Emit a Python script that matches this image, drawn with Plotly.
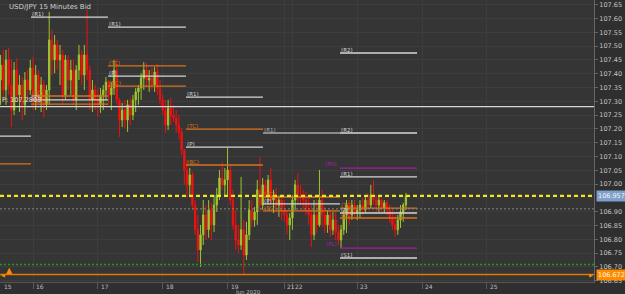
import plotly.graph_objects as go

title_text = "USD/JPY 15 Minutes Bid"

# trading-hour index (hours since Jun 15 00:00, weekend gap removed)
candle_hours = list(range(12, 163))

closes = [
    107.431, 107.341, 107.450, 107.359, 107.268, 107.413, 107.323, 107.359, 107.287, 107.377, 107.341, 107.421,
    107.323, 107.395, 107.305, 107.359, 107.287, 107.341, 107.522, 107.450, 107.504, 107.450, 107.468, 107.323,
    107.450, 107.377, 107.413, 107.305, 107.413, 107.468, 107.395, 107.468, 107.413, 107.305, 107.341, 107.305,
    107.287, 107.323, 107.341, 107.370, 107.323, 107.348, 107.413, 107.305, 107.232, 107.268, 107.232, 107.287,
    107.250, 107.305, 107.334, 107.348, 107.384, 107.413, 107.377, 107.384, 107.359, 107.406, 107.348, 107.305,
    107.268, 107.214, 107.276, 107.250, 107.240, 107.214, 107.189, 107.124, 107.051, 106.997, 107.033, 106.924,
    106.834, 106.761, 106.816, 106.888, 106.834, 106.906, 106.852, 106.924, 106.960, 107.022, 106.997, 107.015,
    107.051, 106.942, 106.852, 106.797, 106.779, 106.834, 106.743, 106.816, 106.906, 106.870, 106.899, 106.979,
    106.924, 106.997, 106.960, 107.015, 106.942, 106.960, 106.924, 106.942, 106.906, 106.888, 106.852, 106.877,
    106.942, 106.997, 106.960, 106.950, 106.942, 106.906, 106.888, 106.816, 106.888, 106.852, 106.942, 106.888,
    106.852, 106.888, 106.834, 106.870, 106.826, 106.797, 106.834, 106.888, 106.924, 106.888, 106.924, 106.899,
    106.906, 106.924, 106.906, 106.942, 106.924, 106.960, 106.942, 106.924, 106.942, 106.913, 106.932, 106.906,
    106.877, 106.852, 106.834, 106.870, 106.899, 106.924, 106.957,
]
highs = [
    107.468, 107.486, 107.486, 107.493, 107.450, 107.442, 107.457, 107.395, 107.388, 107.406, 107.413, 107.450,
    107.460, 107.431, 107.413, 107.388, 107.377, 107.359, 107.624, 107.558, 107.540, 107.522, 107.504, 107.486,
    107.468, 107.468, 107.450, 107.450, 107.431, 107.504, 107.486, 107.504, 107.631, 107.431, 107.377, 107.359,
    107.348, 107.348, 107.359, 107.388, 107.377, 107.370, 107.450, 107.450, 107.312, 107.294, 107.305, 107.305,
    107.312, 107.323, 107.348, 107.359, 107.402, 107.442, 107.439, 107.413, 107.421, 107.424, 107.435, 107.377,
    107.323, 107.305, 107.305, 107.312, 107.287, 107.268, 107.250, 107.203, 107.124, 107.087, 107.058, 107.044,
    106.942, 106.888, 106.852, 106.942, 106.924, 106.942, 106.932, 106.960, 106.986, 107.051, 107.080, 107.058,
    107.131, 107.069, 106.979, 106.906, 106.852, 107.026, 106.870, 106.863, 106.942, 106.942, 106.917, 107.015,
    107.098, 107.022, 107.015, 107.033, 107.058, 106.979, 106.986, 106.960, 106.953, 106.942, 106.906, 106.895,
    106.960, 107.015, 107.040, 106.997, 106.979, 106.971, 106.960, 106.924, 106.942, 106.942, 107.051, 106.979,
    106.917, 106.906, 106.906, 106.899, 106.906, 106.852, 106.852, 106.906, 106.942, 106.942, 106.942, 106.942,
    106.924, 106.942, 106.950, 106.960, 106.968, 106.997, 107.015, 106.960, 106.953, 106.950, 106.942, 106.942,
    106.924, 106.906, 106.888, 106.888, 106.924, 106.932, 106.968,
]
lows = [
    107.287, 107.305, 107.287, 107.323, 107.207, 107.250, 107.305, 107.261, 107.232, 107.250, 107.305, 107.323,
    107.268, 107.268, 107.287, 107.261, 107.240, 107.268, 107.287, 107.395, 107.402, 107.413, 107.359, 107.287,
    107.305, 107.341, 107.323, 107.287, 107.268, 107.377, 107.359, 107.341, 107.377, 107.268, 107.261, 107.268,
    107.243, 107.258, 107.268, 107.305, 107.287, 107.268, 107.323, 107.287, 107.171, 107.207, 107.203, 107.189,
    107.214, 107.232, 107.261, 107.287, 107.305, 107.341, 107.348, 107.334, 107.341, 107.334, 107.323, 107.287,
    107.250, 107.185, 107.196, 107.214, 107.225, 107.185, 107.160, 107.105, 106.997, 106.953, 106.960, 106.906,
    106.816, 106.718, 106.700, 106.779, 106.797, 106.805, 106.797, 106.826, 106.899, 106.942, 106.979, 106.953,
    106.960, 106.924, 106.834, 106.761, 106.750, 106.761, 106.672, 106.725, 106.797, 106.845, 106.845, 106.852,
    106.899, 106.906, 106.942, 106.924, 106.924, 106.895, 106.899, 106.881, 106.870, 106.863, 106.816, 106.797,
    106.834, 106.906, 106.924, 106.924, 106.906, 106.888, 106.852, 106.772, 106.797, 106.823, 106.845, 106.845,
    106.823, 106.823, 106.808, 106.816, 106.797, 106.779, 106.768, 106.816, 106.823, 106.852, 106.870, 106.877,
    106.870, 106.877, 106.888, 106.895, 106.906, 106.913, 106.924, 106.895, 106.899, 106.895, 106.895, 106.888,
    106.859, 106.834, 106.808, 106.816, 106.841, 106.863, 106.906,
]
first_open = 107.377
opens = [first_open] + closes[:-1]

# pivot segments (label, start hour, end hour, price, kind)
seg_labels = ["", "",
              "(R1)", "(TC)", "(P)", "(BC)",
              "(R1)", "(TC)", "(P)", "(BC)",
              "(R1)", "(TC)", "(P)", "(BC)",
              "(R1)", "(TC)", "(P)", "(BC)",
              "(R2)", "(R2)", "(PH)", "(R1)", "(TC)", "(P)", "(BC)", "(PL)", "(S1)"]
seg_start = [10, 10,
             23.25, 23.25, 23.25, 23.25,
             51.75, 51.75, 51.75, 51.75,
             80.6, 80.6, 80.6, 80.6,
             109.1, 109.1, 109.1, 109.1,
             137.6, 137.6, 137.6, 137.6, 137.6, 137.6, 137.6, 137.6, 137.6]
seg_end = [23.25, 23.25,
           51.75, 51.75, 51.75, 51.75,
           80.6, 80.6, 80.6, 80.6,
           109.1, 109.1, 109.1, 109.1,
           137.6, 137.6, 137.6, 137.6,
           166.1, 166.1, 166.1, 166.1, 166.1, 166.1, 166.1, 166.1, 166.1]
seg_price = [107.174, 107.073,
             107.605, 107.319, 107.305, 107.290,
             107.569, 107.428, 107.391, 107.355,
             107.315, 107.199, 107.134, 107.069,
             107.185, 106.953, 106.928, 106.903,
             107.475, 107.185, 107.058, 107.026, 106.913, 106.895, 106.877, 106.768, 106.732]
seg_kind = ["w", "o",
            "w", "o", "w", "o",
            "w", "o", "w", "o",
            "w", "o", "w", "o",
            "g", "o", "w", "o",
            "w", "w", "p", "w", "o", "w", "o", "p", "w"]

pivot_value = 107.2803
pivot_text = "P: 107.2803"
last_price = 106.957
dotted_level = 106.91
green_level = 106.708
low_level = 106.672

price_ticks = [106.65, 106.70, 106.75, 106.80, 106.85, 106.90, 107.00, 107.05, 107.10,
               107.15, 107.20, 107.25, 107.30, 107.35, 107.40, 107.45, 107.50, 107.55,
               107.60, 107.65]
grid_levels = [106.95]

day_hours = [24, 48, 72, 96, 117, 120, 144, 168, 192]
day_labels = ["16", "17", "18", "19", "21", "22", "23", "24", "25"]
first_day_label = "15"
month_label = "Jun 2020"

kind_color = {"w": "#d6d6d6", "g": "#a9a9a9", "o": "#d8731c", "p": "#a21ea6"}
FONT = "DejaVu Sans"

fig = go.Figure()
fig.add_trace(go.Candlestick(
    x=candle_hours, open=opens, high=highs, low=lows, close=closes,
    increasing=dict(line=dict(color="#9cc52e", width=1), fillcolor="#a8cc30"),
    decreasing=dict(line=dict(color="#f01010", width=1), fillcolor="#f01818"),
    whiskerwidth=0, showlegend=False, hoverinfo="skip"))

annotations = []
for lab, x0, x1, p, k in zip(seg_labels, seg_start, seg_end, seg_price, seg_kind):
    col = kind_color[k]
    fig.add_trace(go.Scatter(x=[x0, x1], y=[p, p], mode="lines",
                             line=dict(color=col, width=1.3),
                             showlegend=False, hoverinfo="skip"))
    if lab:
        if k == "p":
            annotations.append(dict(x=x0, y=p, xref="x", yref="y", text=lab,
                                    showarrow=False, xanchor="right", yanchor="bottom",
                                    xshift=-1, yshift=-1, font=dict(size=5.5, color=col, family=FONT)))
        else:
            annotations.append(dict(x=x0, y=p, xref="x", yref="y", text=lab,
                                    showarrow=False, xanchor="left", yanchor="bottom",
                                    xshift=-1, yshift=-2, font=dict(size=5.5, color=col, family=FONT)))

shapes = [
    dict(type="line", xref="paper", x0=0, x1=1, yref="y", y0=g, y1=g,
         line=dict(color="#3d3d3d", width=1), layer="below") for g in grid_levels
]
shapes += [
    dict(type="line", xref="paper", x0=0, x1=1, yref="y", y0=pivot_value, y1=pivot_value,
         line=dict(color="#d6d6d6", width=1.3)),
    dict(type="line", xref="paper", x0=0, x1=1, yref="y", y0=dotted_level, y1=dotted_level,
         line=dict(color="#8a8a7a", width=1, dash="2px,2px")),
    dict(type="line", xref="paper", x0=0, x1=1, yref="y", y0=green_level, y1=green_level,
         line=dict(color="#1f9a1f", width=1.5, dash="2px,2px")),
    dict(type="line", xref="paper", x0=0, x1=1, yref="y", y0=low_level, y1=low_level,
         line=dict(color="#e07a00", width=1.5)),
    dict(type="line", xref="paper", x0=0, x1=1, yref="y", y0=last_price, y1=last_price,
         line=dict(color="#f2e61e", width=2.2, dash="4px,3px")),
]

annotations.append(dict(x=0, y=1, xref="paper", yref="paper", text=title_text, showarrow=False,
                        xanchor="left", yanchor="top", xshift=7, yshift=-1,
                        font=dict(size=7, color="#d0d0d0", family=FONT)))
annotations.append(dict(x=0, y=pivot_value, xref="paper", yref="y", text=pivot_text, showarrow=False,
                        xanchor="left", yanchor="bottom", xshift=0, yshift=1,
                        font=dict(size=6.5, color="#e0e0e0", family=FONT)))
annotations.append(dict(x=1, y=last_price, xref="paper", yref="y", text=f"{last_price:.3f}",
                        showarrow=False, xanchor="left", yanchor="middle", xshift=2,
                        bgcolor="#7f9fcc", borderpad=1,
                        font=dict(size=6.5, color="#f4f4f4", family=FONT)))
annotations.append(dict(x=1, y=low_level, xref="paper", yref="y", text=f"{low_level:.3f}",
                        showarrow=False, xanchor="left", yanchor="middle", xshift=2,
                        bgcolor="#ff8c00", borderpad=1,
                        font=dict(size=6.5, color="#fff4e0", family=FONT)))
annotations.append(dict(x=0, y=low_level, xref="paper", yref="y", text="▲", showarrow=False,
                        xanchor="left", yanchor="bottom", xshift=4, yshift=-2,
                        font=dict(size=8, color="#ff8c00", family=FONT)))
annotations.append(dict(x=0, y=low_level, xref="paper", yref="y", text="◀", showarrow=False,
                        xanchor="left", yanchor="middle", xshift=-1,
                        font=dict(size=5, color="#ff8c00", family=FONT)))
annotations.append(dict(x=1, y=low_level, xref="paper", yref="y", text="▶", showarrow=False,
                        xanchor="right", yanchor="middle", xshift=1,
                        font=dict(size=5, color="#ff8c00", family=FONT)))

for h, lab in zip(day_hours, day_labels):
    annotations.append(dict(x=h, y=0, xref="x", yref="paper", text=lab, showarrow=False,
                            xanchor="left", yanchor="top", xshift=1, yshift=1,
                            font=dict(size=6, color="#bdbdbd", family=FONT)))
annotations.append(dict(x=0, y=0, xref="paper", yref="paper", text=first_day_label, showarrow=False,
                        xanchor="left", yanchor="top", xshift=2, yshift=1,
                        font=dict(size=6, color="#bdbdbd", family=FONT)))
annotations.append(dict(x=248 / 594, y=0, xref="paper", yref="paper", text=month_label, showarrow=False,
                        xanchor="center", yanchor="top", yshift=-4.5,
                        font=dict(size=5.5, color="#bdbdbd", family=FONT)))

fig.update_layout(
    width=625, height=294,
    margin=dict(l=0, r=31, t=0, b=12),
    paper_bgcolor="#2f2f2f", plot_bgcolor="#353535",
    showlegend=False,
    shapes=shapes, annotations=annotations,
    xaxis=dict(range=[11.79, 231.6], tickvals=day_hours, showticklabels=False,
               ticks="outside", ticklen=6, tickcolor="#5a5a5a",
               showgrid=True, gridcolor="#3d3d3d", gridwidth=1, zeroline=False,
               showline=True, linecolor="#555555", rangeslider=dict(visible=False),
               fixedrange=True),
    yaxis=dict(side="right", range=[106.645, 107.667], tickvals=price_ticks,
               tickformat=".2f", tickfont=dict(size=6.5, color="#c4c4c4", family=FONT),
               ticks="outside", ticklen=3, tickcolor="#666666",
               showgrid=True, gridcolor="#3d3d3d", gridwidth=1, zeroline=False,
               showline=True, linecolor="#666666", fixedrange=True),
)

fig.write_html("out.html")
